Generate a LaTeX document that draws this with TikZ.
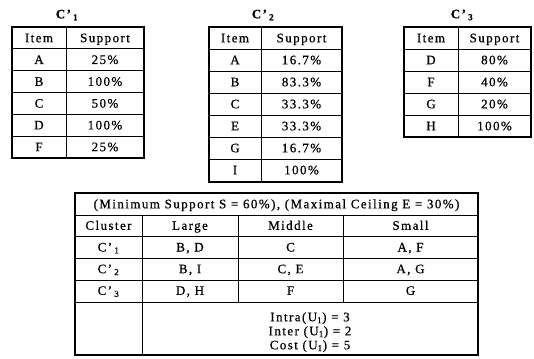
\documentclass[tikz,border=0pt]{standalone}
\usepackage{fontspec}
\setmainfont[LetterSpace=11,FakeBold=0.6]{Liberation Serif}
\begin{document}
\begin{tikzpicture}[x=1pt,y=-1pt,
  outer/.style={line width=1.6pt},
  inner/.style={line width=0.9pt},
  cell/.style={font=\fontsize{13}{14}\selectfont, inner sep=0pt, anchor=center, text height=8.6pt, text depth=0pt},
  ttl/.style={font=\fontsize{13}{14}\selectfont\bfseries, inner sep=0pt}]
\useasboundingbox (0,0) rectangle (534,358);

% ---------- Table C'1 ----------
\node[ttl] (T1) at (67,15) {C’\,\textsubscript{1}};
\foreach \y in {48.8,70.6,92.4,114.2,136} \draw[inner] (12,\y) -- (144,\y);
\draw[inner] (66,27) -- (66,158);
\draw[outer] (12,27) rectangle (144,158);
\foreach \a/\b [count=\i from 0] in {Item/Support, A/25\%, B/100\%, C/50\%, D/100\%, F/25\%}{
  \node[cell] (t1a\i) at (39,37.9+21.8*\i) {\a};
  \node[cell] (t1b\i) at (105,37.9+21.8*\i) {\b};
}

% ---------- Table C'2 ----------
\node[ttl] (T2) at (263,15) {C’\,\textsubscript{2}};
\foreach \y in {49,71,93,115,137,159} \draw[inner] (209,\y) -- (342,\y);
\draw[inner] (261,27) -- (261,182);
\draw[outer] (209,27) rectangle (342,182);
\foreach \a/\b [count=\i from 0] in {Item/Support, A/16.7\%, B/83.3\%, C/33.3\%, E/33.3\%, G/16.7\%, I/100\%}{
  \node[cell] (t2a\i) at (235,38+22*\i) {\a};
  \node[cell] (t2b\i) at (301.5,38+22*\i) {\b};
}

% ---------- Table C'3 ----------
\node[ttl] (T3) at (462,15) {C’\,\textsubscript{3}};
\foreach \y in {49,71,93,115} \draw[inner] (404,\y) -- (531,\y);
\draw[inner] (458,27) -- (458,137);
\draw[outer] (404,27) rectangle (531,137);
\foreach \a/\b [count=\i from 0] in {Item/Support, D/80\%, F/40\%, G/20\%, H/100\%}{
  \node[cell] (t3a\i) at (431,38+22*\i) {\a};
  \node[cell] (t3b\i) at (494.5,38+22*\i) {\b};
}

% ---------- Bottom table ----------
\draw[inner] (75,215) -- (478,215);
\foreach \y in {236,258,280,302} \draw[inner] (75,\y) -- (478,\y);
\draw[inner] (142,215) -- (142,355);
\draw[inner] (238,215) -- (238,302);
\draw[inner] (343,215) -- (343,302);
\draw[outer] (75,193) rectangle (478,355);
\node[cell] (head) at (276.5,204) {(Minimum Support S = 60\%), (Maximal Ceiling E = 30\%)};
\foreach \c/\l/\m/\s [count=\i from 0] in {Cluster/Large/Middle/Small,
  C’\,\textsubscript{1}/{B, D}/C/{A, F},
  C’\,\textsubscript{2}/{B, I}/{C, E}/{A, G},
  C’\,\textsubscript{3}/{D, H}/F/G}{
  \node[cell] (bc\i) at (108.5,225.5+21.7*\i) {\c};
  \node[cell] (bl\i) at (190,225.5+21.7*\i) {\l};
  \node[cell] (bm\i) at (290.5,225.5+21.7*\i) {\m};
  \node[cell] (bs\i) at (410.5,225.5+21.7*\i) {\s};
}
\node[cell] (intra) at (310,317) {Intra(U\textsubscript{1}) = 3};
\node[cell] (inter) at (310,331) {Inter (U\textsubscript{1}) = 2};
\node[cell] (cost) at (310,345) {Cost (U\textsubscript{1}) = 5};
\end{tikzpicture}
\end{document}
